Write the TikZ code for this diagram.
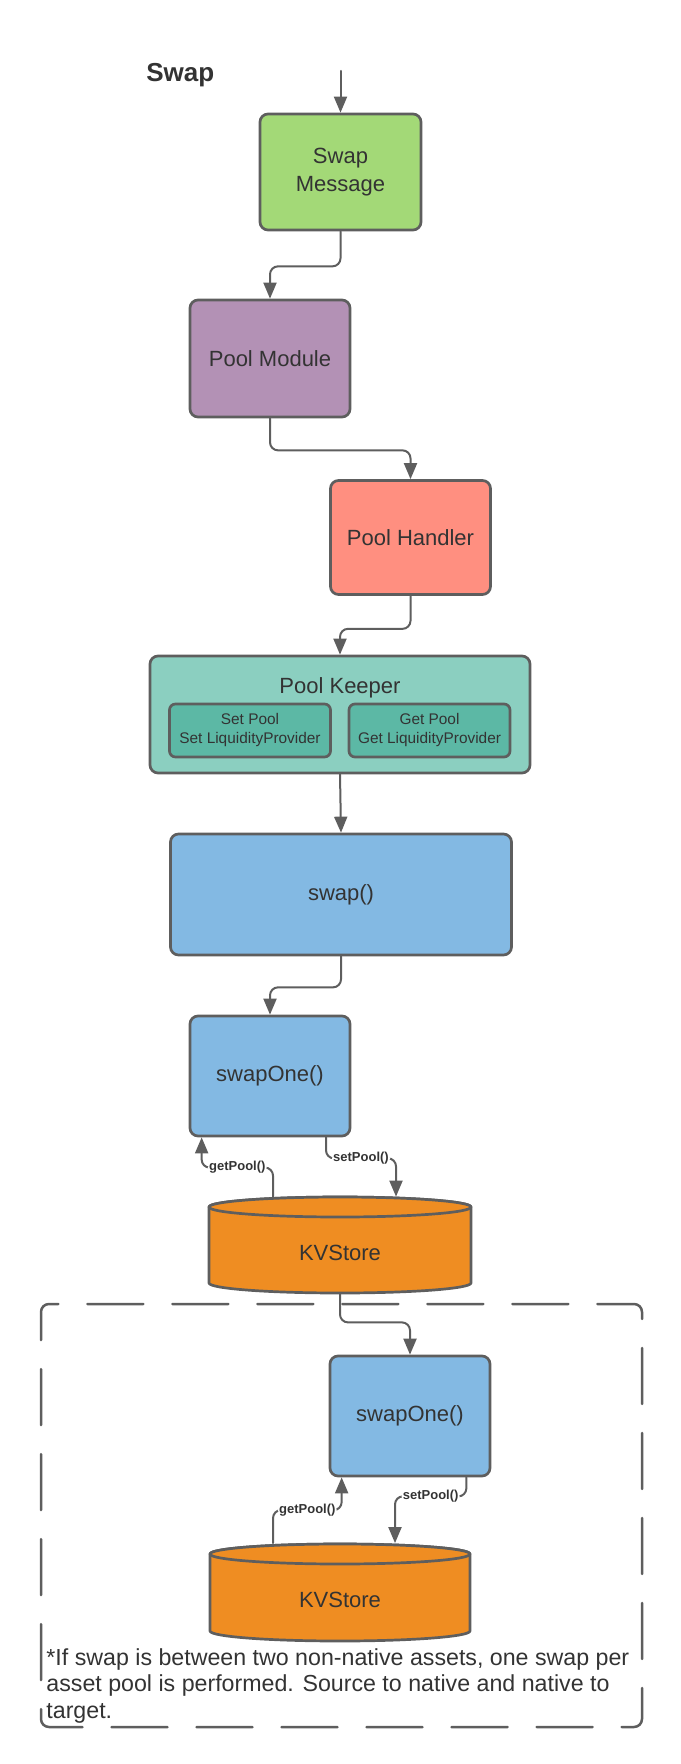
\documentclass[tikz,border=0pt]{standalone}
\usepackage{fontspec}
\setmainfont{Liberation Sans}
\usetikzlibrary{arrows.meta}
\definecolor{aaddww}{HTML}{A3D977}
\definecolor{bbwwbb}{HTML}{B391B5}
\definecolor{ffwwtt}{HTML}{FF8F80}
\definecolor{wwccbb}{HTML}{8BCFC0}
\definecolor{wwbbaa}{HTML}{5CB8A5}
\definecolor{wwbbee}{HTML}{83B9E3}
\definecolor{eewwqq}{HTML}{EF8D22}
\definecolor{wwwwww}{HTML}{5E5E5E}
\definecolor{tttttt}{HTML}{333333}

\begin{document}
\begin{tikzpicture}[line cap=round,line join=round,>={Triangle[length=8pt,width=6.5pt]},x=0.5pt,y=-0.5pt,
        box/.style={draw=wwwwww,line width=1.35pt,rounded corners=4pt,text=tttttt,align=center,font=\fontsize{11}{13.8}\selectfont},
        inbox/.style={draw=wwwwww,line width=1.35pt,rounded corners=3pt,fill=wwbbaa,text=tttttt,align=center,font=\fontsize{7.7}{9.5}\selectfont,minimum width=80.5pt,minimum height=26.5pt},
        kv/.style={draw=wwwwww,line width=1.35pt,fill=eewwqq},
        link/.style={->,draw=wwwwww,line width=1pt,rounded corners=4pt},
        call/.style={fill=white,text=tttttt,inner sep=0.6pt,font=\fontsize{6.5}{7}\selectfont\bfseries}]
        \useasboundingbox (0,0) rectangle (680,1764);
        \node (title) [anchor=base west,inner sep=0pt,text=tttttt,font=\fontsize{13}{15}\selectfont\bfseries] at (146,82) {Swap};
        \coordinate (start) at (340.5,71);
        \node (msg) [box,fill=aaddww,minimum width=80.5pt,minimum height=58pt] at (340.5,172) {Swap\\Message};
        \node (pm) [box,fill=bbwwbb,minimum width=80pt,minimum height=58.5pt] at (270,358.5) {Pool Module};
        \node (ph) [box,fill=ffwwtt,minimum width=80pt,minimum height=57pt] at (410.5,537.5) {Pool Handler};
        \node (pk) [box,fill=wwccbb,minimum width=190pt,minimum height=58.5pt] at (340,714.5) {};
        \node (pktitle) [anchor=base,text=tttttt,font=\fontsize{11}{13.8}\selectfont] at (340,693) {Pool Keeper};
        \node (setter) [inbox] at (250,730.5) {Set Pool\\Set LiquidityProvider};
        \node (getter) [inbox] at (429.5,730.5) {Get Pool\\Get LiquidityProvider};
        \node (sw) [box,fill=wwbbee,minimum width=170.5pt,minimum height=60.5pt] at (341,894.5) {swap()};
        \node (soA) [box,fill=wwbbee,minimum width=80pt,minimum height=60pt] at (270,1076) {swapOne()};
        \draw[kv] (209,1207) -- (209,1283) arc[start angle=180,end angle=360,x radius=65.5pt,y radius=5pt] -- (471,1207) arc[start angle=0,end angle=180,x radius=65.5pt,y radius=5pt] -- cycle;
        \draw[kv] (340,1207) ellipse[x radius=65.5pt,y radius=5pt];
        \node (kvA) [minimum width=131pt,minimum height=40pt,text=tttttt,font=\fontsize{11}{13.8}\selectfont] at (340,1253) {KVStore};
        \draw[dash pattern=on 28pt off 14.5pt,dash phase=14pt,draw=wwwwww,line width=1.25pt,rounded corners=4pt] (41,1304) rectangle (642,1727);
        \node (soB) [box,fill=wwbbee,minimum width=80pt,minimum height=60pt] at (410,1416) {swapOne()};
        \draw[kv] (210,1554) -- (210,1631) arc[start angle=180,end angle=360,x radius=65pt,y radius=5pt] -- (470,1554) arc[start angle=0,end angle=180,x radius=65pt,y radius=5pt] -- cycle;
        \draw[kv] (340,1554) ellipse[x radius=65pt,y radius=5pt];
        \node (kvB) [minimum width=130pt,minimum height=40.5pt,text=tttttt,font=\fontsize{11}{13.8}\selectfont] at (340,1600) {KVStore};
        \node (note) [anchor=north west,inner sep=0pt,align=left,text=tttttt,font=\fontsize{11.6}{13.25}\selectfont] at (46,1648) {*If swap is between two non-native assets, one swap per\\asset pool is performed. Source to native and native to\\target.};
        \draw[link] (start) -- (msg.north);
        \draw[link] (msg.south) -- ++(0,35) -| (pm.north);
        \draw[link] (pm.south) -- ++(0,32) -| (ph.north);
        \draw[link] (ph.south) -- ++(0,33) -| (pk.north);
        \draw[link] (pk.south) -- (sw.north);
        \draw[link] (sw.south) -- ++(0,31) -| (soA.north);
        \draw[link] ([xshift=-33.5pt,yshift=8pt]kvA.north) -- ++(0,-29) -| node[pos=0.25,call] {getPool()} ([xshift=6.5pt]soA.south west);
        \draw[link] ([xshift=28pt]soA.south) -- ++(0,21) -| node[pos=0.25,call] {setPool()} ([xshift=28pt,yshift=8pt]kvA.north);
        \draw[link] (kvA.south) -- ++(0,29) -| (soB.north);
        \draw[link] ([xshift=-33.5pt,yshift=8pt]kvB.north) -- ++(0,-33) -| node[pos=0.25,call] {getPool()} ([xshift=6.5pt]soB.south west);
        \draw[link] ([xshift=-12.5pt]soB.south east) -- ++(0,19) -| node[pos=0.25,call] {setPool()} ([xshift=27.5pt,yshift=8pt]kvB.north);
\end{tikzpicture}
\end{document}
